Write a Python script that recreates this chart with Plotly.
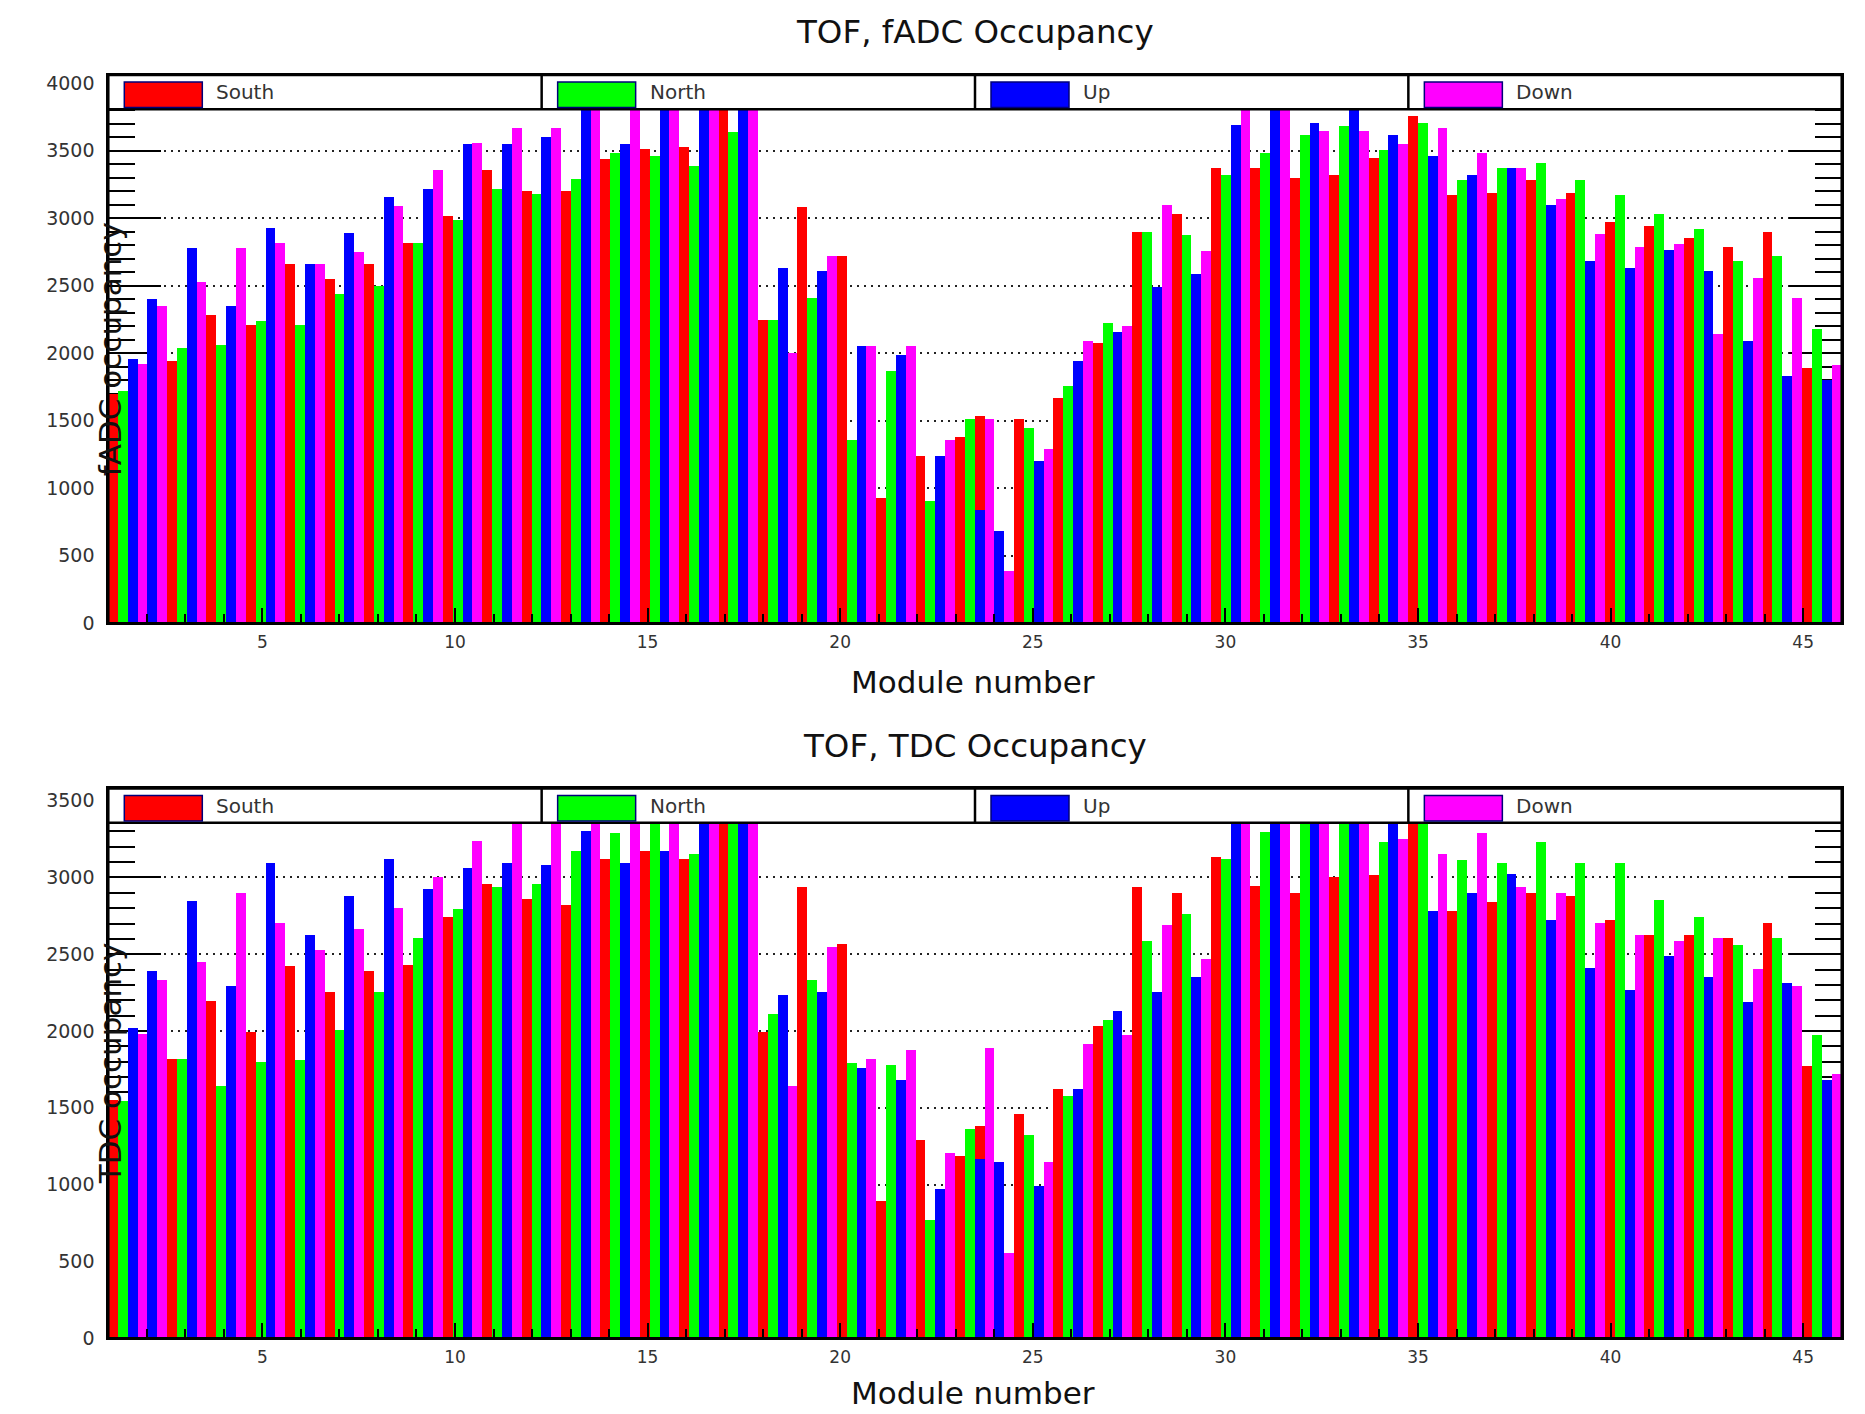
import plotly.graph_objects as go

# ---------------- data ----------------
series_names = ["South", "North", "Up", "Down"]
series_colors = ["#ff0000", "#00ff00", "#0000ff", "#ff00ff"]

# fADC occupancy
fadc_south = [1700, 1940, 2280, 2210, 2660, 2550, 2660, 2820, 3020, 3360, 3200, 3200, 3440, 3510, 3530, 3850, 2250, 3080, 2720, 930, 1240, 1380,
              1535, 1510, 1670, 2075, 2900, 3030, 3370, 3370, 3300, 3320, 3445, 3755, 3170, 3190, 3280, 3190, 2970, 2945, 2855, 2785, 2900, 1890]
fadc_north = [1720, 2040, 2060, 2240, 2210, 2440, 2500, 2820, 2990, 3220, 3180, 3290, 3480, 3460, 3390, 3640, 2250, 2410, 1356, 1870, 905, 1510,
              1480, 1450, 1755, 2225, 2900, 2875, 3320, 3480, 3615, 3685, 3505, 3705, 3280, 3370, 3410, 3280, 3170, 3030, 2920, 2680, 2720, 2180]
fadc_up = [1960, 2400, 2780, 2350, 2930, 2660, 2890, 3160, 3220, 3550, 3550, 3600, 3840, 3550, 3850, 3830, 3860, 2630, 2610, 2055, 1990, 1240,
           840, 685, 1200, 1940, 2160, 2490, 2590, 3690, 3850, 3705, 3868, 3615, 3460, 3320, 3370, 3100, 2680, 2630, 2765, 2610, 2090, 1830, 1800]
fadc_down = [1920, 2350, 2530, 2780, 2820, 2660, 2750, 3090, 3360, 3560, 3670, 3670, 3840, 3850, 3860, 3850, 3830, 2000, 2720, 2055, 2055, 1356,
             1510, 385, 1290, 2090, 2205, 3100, 2760, 3840, 3850, 3645, 3645, 3550, 3665, 3480, 3370, 3145, 2880, 2785, 2810, 2140, 2560, 2410, 1910]

# TDC occupancy
tdc_south = [1550, 1816, 2190, 1991, 2421, 2249, 2387, 2427, 2740, 2958, 2860, 2820, 3117, 3173, 3117, 3390, 1991, 2934, 2562, 889, 1285, 1187,
             1381, 1458, 1617, 2028, 2934, 2899, 3133, 2939, 2899, 3000, 3013, 3380, 2780, 2838, 2899, 2878, 2721, 2620, 2620, 2602, 2700, 1771]
tdc_north = [1545, 1816, 1638, 1797, 1811, 2007, 2249, 2602, 2793, 2934, 2958, 3173, 3290, 3380, 3152, 3395, 2111, 2328, 1792, 1776, 770, 1359,
             1340, 1320, 1577, 2068, 2581, 2758, 3117, 3292, 3385, 3390, 3231, 3375, 3112, 3091, 3231, 3091, 3091, 2854, 2740, 2559, 2602, 1970]
tdc_up = [2015, 2387, 2841, 2289, 3093, 2626, 2878, 3117, 2920, 3059, 3093, 3077, 3298, 3093, 3173, 3385, 3405, 2230, 2249, 1758, 1678, 966,
          1166, 1147, 988, 1617, 2129, 2249, 2347, 3385, 3395, 3405, 3400, 3380, 2780, 2899, 3019, 2721, 2408, 2267, 2488, 2347, 2188, 2310, 1678]
tdc_down = [1975, 2328, 2448, 2899, 2700, 2522, 2660, 2798, 3000, 3236, 3375, 3385, 3380, 3395, 3385, 3395, 3390, 1638, 2546, 1816, 1872, 1205,
            1890, 550, 1142, 1912, 1970, 2687, 2467, 3385, 3390, 3395, 3385, 3250, 3152, 3290, 2934, 2899, 2700, 2620, 2581, 2602, 2403, 2289, 1718]

panels = [
    dict(title="TOF, fADC Occupancy", ytitle="fADC occupancy", ymax=4061,
         values=[fadc_south, fadc_north, fadc_up, fadc_down]),
    dict(title="TOF, TDC Occupancy", ytitle="TDC occupancy", ymax=3580,
         values=[tdc_south, tdc_north, tdc_up, tdc_down]),
]
x_title = "Module number"

# ---------------- layout geometry (page pixels) ----------------
W, H = 1865, 1414
X_MIN, X_MAX = 1, 46
N_SLOTS = 176                        # bar slots across the axis (4 per bin)
SLOT_W = (X_MAX - X_MIN) / N_SLOTS

PX_L, PX_R = 108.3, 1841.7
PLOT_W = PX_R - PX_L
panel_px = [(75.0, 623.3), (788.4, 1338.2)]     # frame top / bottom (page px)
title_px = [32, 746]
xtitle_px = [682, 1393]
ytitle_x = 110


def fx(px):
    return px / W


def fy(py):
    return 1 - py / H


def sn_pair(i):
    # South/North bar pairs: first bin leads, then they sit in the second half
    # of each bin up to the middle, then in the first half afterwards
    if i == 0:
        return 0
    if i <= 21:
        return 2 * i + 1
    return 2 * i


def ud_pair(i):
    if i == 0:
        return 1
    if i <= 22:
        return 2 * i
    return 2 * i - 1


def slot_center(slot):
    return X_MIN + (slot + 0.5) * SLOT_W


fig = go.Figure()
shapes = []
annotations = []
FONT = "DejaVu Sans, Liberation Sans, Arial, sans-serif"

for p, panel in enumerate(panels):
    xa = "x" if p == 0 else "x2"
    ya = "y" if p == 0 else "y2"
    for s, (name, color, vals) in enumerate(zip(series_names, series_colors, panel["values"])):
        if s < 2:
            slots = [2 * sn_pair(i) + (s % 2) for i in range(len(vals))]
        else:
            slots = [2 * ud_pair(i) + (s % 2) for i in range(len(vals))]
        fig.add_trace(go.Bar(
            x=[slot_center(k) for k in slots], y=vals, width=SLOT_W,
            marker=dict(color=color, line=dict(width=0)),
            name=name, showlegend=False, xaxis=xa, yaxis=ya,
            hovertemplate=name + ": %{y}<extra></extra>"))

    top_px, bot_px = panel_px[p]
    plot_h = bot_px - top_px
    xkey = "xaxis" if p == 0 else "xaxis2"
    ykey = "yaxis" if p == 0 else "yaxis2"
    fig.update_layout(**{
        xkey: dict(range=[X_MIN, X_MAX], domain=[fx(PX_L), fx(PX_R)], anchor=ya,
                   tick0=0, dtick=5, ticks="inside", ticklen=15, tickwidth=2, tickcolor="black",
                   minor=dict(dtick=1, tick0=0, ticks="inside", ticklen=9, tickwidth=2, tickcolor="black"),
                   showline=True, linecolor="black", linewidth=2, mirror="ticks",
                   showgrid=False, zeroline=False, layer="above traces", automargin=False,
                   tickfont=dict(family=FONT, size=17, color="#333333"), ticklabelstandoff=2,
                   fixedrange=True),
        ykey: dict(range=[0, panel["ymax"]], domain=[fy(bot_px), fy(top_px)], anchor=xa,
                   tick0=0, dtick=500, ticks="inside", ticklen=53, tickwidth=2, tickcolor="black",
                   minor=dict(dtick=100, tick0=0, ticks="inside", ticklen=27, tickwidth=2, tickcolor="black"),
                   showline=True, linecolor="black", linewidth=2, mirror="ticks",
                   showgrid=True, gridcolor="#222222", gridwidth=2, griddash="2px,5px",
                   zeroline=False, layer="below traces", automargin=False,
                   tickfont=dict(family=FONT, size=19, color="#333333"), ticklabelstandoff=8,
                   fixedrange=True),
    })

    xr, yr = xa + " domain", ya + " domain"
    # frame
    shapes.append(dict(type="rect", xref=xr, yref=yr, x0=0, x1=1, y0=0, y1=1,
                       line=dict(color="black", width=2.5), fillcolor="rgba(0,0,0,0)", layer="above"))
    # legend box (ROOT style, 4 columns)
    leg_h = 34.3 / plot_h
    shapes.append(dict(type="rect", xref=xr, yref=yr, x0=0, x1=1, y0=1 - leg_h, y1=1,
                       line=dict(color="black", width=2.5), fillcolor="white", layer="above"))
    for c in range(1, 4):
        shapes.append(dict(type="line", xref=xr, yref=yr, x0=c / 4, x1=c / 4, y0=1 - leg_h, y1=1,
                           line=dict(color="black", width=2.5), layer="above"))
    for c, (name, color) in enumerate(zip(series_names, series_colors)):
        x0 = c / 4 + 16 / PLOT_W
        shapes.append(dict(type="rect", xref=xr, yref=yr, x0=x0, x1=x0 + 78 / PLOT_W,
                           y0=1 - 32.5 / plot_h, y1=1 - 7.0 / plot_h,
                           line=dict(color="#00007a", width=1.5), fillcolor=color, layer="above"))
        annotations.append(dict(xref=xr, yref=yr, x=c / 4 + 106 / PLOT_W, y=1 - 17.5 / plot_h,
                                xanchor="left", yanchor="middle", showarrow=False, text=name,
                                font=dict(family=FONT, size=20, color="#333333")))
    # titles
    annotations.append(dict(xref="paper", yref="paper", x=fx(975), y=fy(title_px[p]),
                            xanchor="center", yanchor="middle", showarrow=False, text=panel["title"],
                            font=dict(family=FONT, size=32.5, color="#111111")))
    annotations.append(dict(xref="paper", yref="paper", x=fx(973), y=fy(xtitle_px[p]),
                            xanchor="center", yanchor="middle", showarrow=False, text=x_title,
                            font=dict(family=FONT, size=31, color="#111111")))
    annotations.append(dict(xref="paper", yref="paper", x=fx(ytitle_x), y=fy((top_px + bot_px) / 2),
                            xanchor="center", yanchor="middle", showarrow=False, text=panel["ytitle"],
                            textangle=-90, font=dict(family=FONT, size=31, color="#111111")))

fig.update_layout(width=W, height=H, margin=dict(l=0, r=0, t=0, b=0, autoexpand=False),
                  paper_bgcolor="white", plot_bgcolor="white",
                  barmode="overlay", bargap=0, showlegend=False,
                  shapes=shapes, annotations=annotations,
                  font=dict(family=FONT, color="black"))

# remove the default page margin so the figure fills the window exactly
fig.write_html("out.html", config={"displayModeBar": False}, post_script=(
    "document.body.style.margin='0';"
    "document.body.style.overflow='hidden';"
    "document.documentElement.style.overflow='hidden';"))
